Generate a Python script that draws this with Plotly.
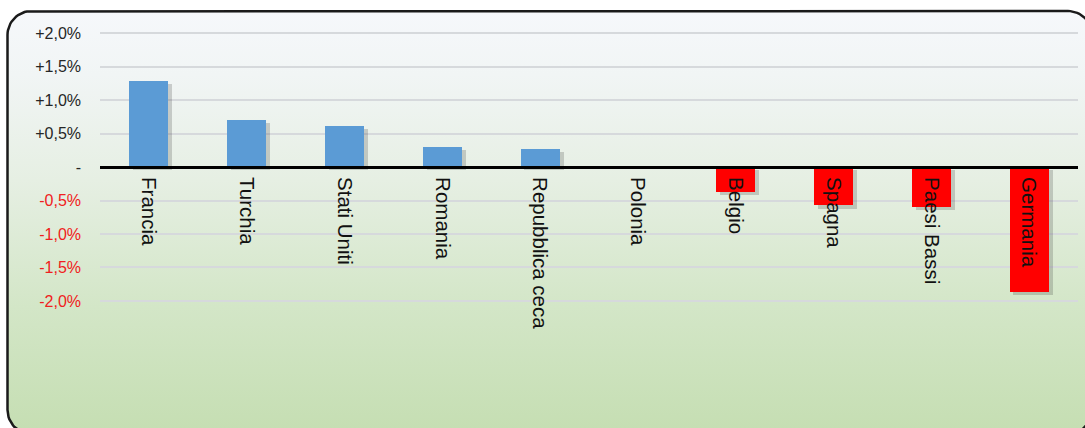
import plotly.graph_objects as go
import math

# ---------------- data ----------------
COUNTRIES = ["Francia", "Turchia", "Stati Uniti", "Romania", "Repubblica ceca",
             "Polonia", "Belgio", "Spagna", "Paesi Bassi", "Germania"]
VALUES = [1.29, 0.70, 0.61, 0.30, 0.27, 0.0, -0.37, -0.57, -0.59, -1.86]
TICK_VALS = [-2.0, -1.5, -1.0, -0.5, 0.0, 0.5, 1.0, 1.5, 2.0]
TICK_LABELS = ["-2,0%", "-1,5%", "-1,0%", "-0,5%", "-", "+0,5%", "+1,0%", "+1,5%", "+2,0%"]

# ---------------- styling ----------------
W, H = 1085, 428
BLUE = "#5b9bd5"
RED = "#ff0000"
NEG_TXT = "#f02020"
POS_TXT = "#262626"
FONT = "Liberation Sans, Arial, sans-serif"

Y_RANGE = [-3.896, 2.493]
PLOT_X0, PLOT_X1 = 100, 1078

bar_colors = [BLUE if v >= 0 else RED for v in VALUES]
tick_text = [
    f"<span style='color:{NEG_TXT if tv < 0 else POS_TXT}'>{lab}</span>"
    for tv, lab in zip(TICK_VALS, TICK_LABELS)
]

# rounded panel outline in pixel coordinates (y measured upward)
def rounded_rect(x0, y0, x1, y1, r, n=16):
    pts = []
    corners = [
        (x1 - r, y1 - r, 0, 90),     # top-right
        (x0 + r, y1 - r, 90, 180),   # top-left
        (x0 + r, y0 + r, 180, 270),  # bottom-left
        (x1 - r, y0 + r, 270, 360),  # bottom-right
    ]
    for cx, cy, a0, a1 in corners:
        for i in range(n + 1):
            a = math.radians(a0 + (a1 - a0) * i / n)
            pts.append((cx + r * math.cos(a), cy + r * math.sin(a)))
    pts.append(pts[0])
    return [p[0] for p in pts], [p[1] for p in pts]

px_top, px_bottom, px_left, px_right = 11, 434, 7.5, 1092
bx, by = rounded_rect(px_left, H - px_bottom, px_right, H - px_top, 24)

fig = go.Figure()

# background panel with vertical gradient (subplot xy, full figure)
fig.add_trace(go.Scatter(
    x=bx, y=by, mode="lines", fill="toself",
    line=dict(color="#1a1a1a", width=2.5),
    fillgradient=dict(
        type="vertical",
        colorscale=[[0.0, "#c5deb2"], [0.3, "#d3e6c7"], [0.6, "#e6efe3"],
                    [0.85, "#f1f5f5"], [1.0, "#f6f8fb"]],
    ),
    hoverinfo="skip", showlegend=False, xaxis="x", yaxis="y",
))

# bar shadows
fig.add_trace(go.Bar(
    x=COUNTRIES, y=VALUES, base=[-0.05] * len(VALUES),
    width=0.4, offset=-0.16,
    marker=dict(color="rgba(40,40,40,0.2)", line=dict(width=0)),
    hoverinfo="skip", showlegend=False, xaxis="x2", yaxis="y2",
))
# bars
fig.add_trace(go.Bar(
    x=COUNTRIES, y=VALUES, width=0.4,
    marker=dict(color=bar_colors, line=dict(width=0)),
    showlegend=False, xaxis="x2", yaxis="y2",
))

zero_pos = (0 - Y_RANGE[0]) / (Y_RANGE[1] - Y_RANGE[0])

fig.update_layout(
    width=W, height=H,
    margin=dict(l=0, r=0, t=0, b=0),
    paper_bgcolor="white", plot_bgcolor="rgba(0,0,0,0)",
    barmode="overlay", bargap=0,
    font=dict(family=FONT, color=POS_TXT),
    xaxis=dict(domain=[0, 1], range=[0, W], visible=False, fixedrange=True),
    yaxis=dict(domain=[0, 1], range=[0, H], visible=False, fixedrange=True),
    xaxis2=dict(
        domain=[PLOT_X0 / W, PLOT_X1 / W],
        anchor="free", position=zero_pos,
        type="category", categoryorder="array", categoryarray=COUNTRIES,
        showgrid=False, zeroline=False,
        showline=True, linecolor="black", linewidth=3,
        ticks="", tickangle=90, ticklabelstandoff=4,
        tickfont=dict(size=20.5, color="#111111", family=FONT),
        layer="above traces",
    ),
    yaxis2=dict(
        domain=[0, 1], anchor="x2", range=Y_RANGE,
        tickvals=TICK_VALS, ticktext=tick_text,
        showgrid=True, gridcolor="#d6d9dc", gridwidth=1.5,
        zeroline=False, showline=False, ticks="",
        ticklabelstandoff=18,
        tickfont=dict(size=16, family=FONT),
    ),
)

fig.write_html("out.html")
